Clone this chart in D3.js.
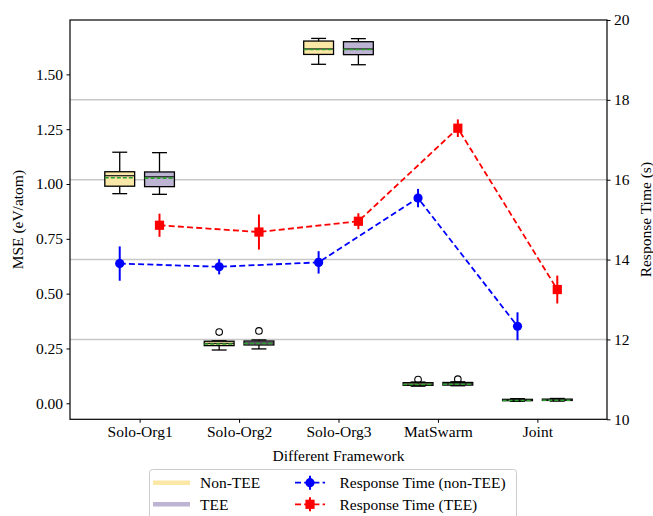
<!DOCTYPE html>
<html>
<head>
<meta charset="utf-8">
<script src="https://cdn.jsdelivr.net/npm/d3@7"></script>
<style>
  body { margin: 0; background: #fff; }
  svg { display: block; font-family: "Liberation Serif", "DejaVu Serif", serif; }
</style>
</head>
<body>
<script>
// DATA
const categories = ["Solo-Org1", "Solo-Org2", "Solo-Org3", "MatSwarm", "Joint"];
// box stats: [whisker low, q1, median, q3, whisker high, mean]
const boxNonTEE = [
  [0.956, 0.990, 1.038, 1.056, 1.145, 1.031],
  [0.243, 0.263, 0.273, 0.283, 0.285, 0.273],
  [1.546, 1.591, 1.616, 1.652, 1.664, 1.616],
  [0.078, 0.082, 0.088, 0.094, 0.097, 0.088],
  [0.009, 0.012, 0.015, 0.018, 0.021, 0.015]
];
const boxTEE = [
  [0.953, 0.988, 1.033, 1.055, 1.143, 1.029],
  [0.248, 0.266, 0.275, 0.284, 0.289, 0.275],
  [1.544, 1.590, 1.616, 1.649, 1.663, 1.616],
  [0.080, 0.083, 0.089, 0.095, 0.098, 0.089],
  [0.010, 0.013, 0.016, 0.019, 0.022, 0.016]
];
const outliersNonTEE = [[], [0.325], [], [0.108], []];
const outliersTEE = [[], [0.330], [], [0.110], []];
const rtNonTEE = [13.90, 13.82, 13.93, 15.54, 12.33];
const rtNonTEEErr = [0.43, 0.19, 0.28, 0.23, 0.35];
const rtTEE = [14.86, 14.69, 14.96, 17.29, 13.25];
const rtTEEErr = [0.29, 0.44, 0.20, 0.22, 0.35];
const leftTicks = [0, 0.25, 0.5, 0.75, 1.0, 1.25, 1.5];
const rightTicks = [10, 12, 14, 16, 18, 20];

// CONSTANTS
const WIDTH = 653, HEIGHT = 516;
const LEFT = 70, RIGHT = 607, TOP = 20, BOTTOM = 419.3;
const OFFSET = 0.2, BOX_W = 0.3;
const COL_NON = "#fce8a6", COL_TEE = "#bdb3d2";
const FONT = 15.5;

const x = d3.scaleLinear().domain([-0.7, 4.7]).range([LEFT, RIGHT]);
const yL = d3.scaleLinear().domain([-0.073, 1.748]).range([BOTTOM, TOP]);
const yR = d3.scaleLinear().domain([10, 20]).range([BOTTOM, TOP]);

const svg = d3.select("body").append("svg")
  .attr("width", WIDTH).attr("height", HEIGHT);

// GRID (from right axis)
svg.append("g").selectAll("line")
  .data(rightTicks.filter(t => t > 10 && t < 20))
  .enter().append("line")
  .attr("x1", LEFT).attr("x2", RIGHT)
  .attr("y1", d => yR(d)).attr("y2", d => yR(d))
  .attr("stroke", "#c8c8c8").attr("stroke-width", 1.5);

// BOXES
function drawBoxes(stats, outliers, shift, fill) {
  const g = svg.append("g");
  const bw = x(BOX_W) - x(0);
  stats.forEach((s, i) => {
    const cx = x(i + shift);
    // whiskers
    g.append("line").attr("x1", cx).attr("x2", cx)
      .attr("y1", yL(s[0])).attr("y2", yL(s[1]))
      .attr("stroke", "#000").attr("stroke-width", 1.3);
    g.append("line").attr("x1", cx).attr("x2", cx)
      .attr("y1", yL(s[3])).attr("y2", yL(s[4]))
      .attr("stroke", "#000").attr("stroke-width", 1.3);
    [s[0], s[4]].forEach(v => {
      g.append("line").attr("x1", cx - bw / 4).attr("x2", cx + bw / 4)
        .attr("y1", yL(v)).attr("y2", yL(v))
        .attr("stroke", "#000").attr("stroke-width", 1.3);
    });
    // box
    g.append("rect")
      .attr("x", cx - bw / 2).attr("width", bw)
      .attr("y", yL(s[3])).attr("height", Math.max(yL(s[1]) - yL(s[3]), 1))
      .attr("fill", fill).attr("stroke", "#000").attr("stroke-width", 1.3);
    // median
    g.append("line").attr("x1", cx - bw / 2).attr("x2", cx + bw / 2)
      .attr("y1", yL(s[2])).attr("y2", yL(s[2]))
      .attr("stroke", "#222").attr("stroke-width", 1.3);
    // mean
    g.append("line").attr("x1", cx - bw / 2).attr("x2", cx + bw / 2)
      .attr("y1", yL(s[5]) + 0.5).attr("y2", yL(s[5]) + 0.5)
      .attr("stroke", "#2ca02c").attr("stroke-width", 1.6)
      .attr("stroke-dasharray", "4,2");
    // fliers
    outliers[i].forEach(v => {
      g.append("circle").attr("cx", cx).attr("cy", yL(v)).attr("r", 3.3)
        .attr("fill", "none").attr("stroke", "#000").attr("stroke-width", 1.1);
    });
  });
}
drawBoxes(boxNonTEE, outliersNonTEE, -OFFSET, COL_NON);
drawBoxes(boxTEE, outliersTEE, OFFSET, COL_TEE);

// RESPONSE TIME LINES
function drawSeries(vals, errs, shift, color, marker) {
  const g = svg.append("g");
  const line = d3.line().x((d, i) => x(i + shift)).y(d => yR(d));
  g.append("path").datum(vals).attr("d", line)
    .attr("fill", "none").attr("stroke", color).attr("stroke-width", 1.8)
    .attr("stroke-dasharray", "6,3.2");
  vals.forEach((v, i) => {
    g.append("line").attr("x1", x(i + shift)).attr("x2", x(i + shift))
      .attr("y1", yR(v - errs[i])).attr("y2", yR(v + errs[i]))
      .attr("stroke", color).attr("stroke-width", 2);
  });
  vals.forEach((v, i) => {
    if (marker === "circle") {
      g.append("circle").attr("cx", x(i + shift)).attr("cy", yR(v)).attr("r", 4.6).attr("fill", color);
    } else {
      g.append("rect").attr("x", x(i + shift) - 4.6).attr("y", yR(v) - 4.6)
        .attr("width", 9.2).attr("height", 9.2).attr("fill", color);
    }
  });
}
drawSeries(rtNonTEE, rtNonTEEErr, -OFFSET, "#0000ff", "circle");
drawSeries(rtTEE, rtTEEErr, OFFSET, "#ff0000", "square");

// AXES
const xAxis = d3.axisBottom(x).tickValues(d3.range(categories.length))
  .tickFormat(i => categories[i]).tickSize(3.5).tickPadding(3.5);
const yAxisL = d3.axisLeft(yL).tickValues(leftTicks).tickFormat(d3.format(".2f"))
  .tickSize(3.5).tickPadding(3.5);
const yAxisR = d3.axisRight(yR).tickValues(rightTicks).tickFormat(d3.format("d"))
  .tickSize(3.5).tickPadding(3.5);

function styleAxis(g) {
  g.select(".domain").remove();
  g.selectAll("text").style("font-family", "Liberation Serif").style("font-size", FONT + "px").attr("fill", "#000");
  g.selectAll("line").attr("stroke", "#000").attr("stroke-width", 1);
}
svg.append("g").attr("transform", "translate(0," + BOTTOM + ")").call(xAxis).call(styleAxis);
svg.append("g").attr("transform", "translate(" + LEFT + ",0)").call(yAxisL).call(styleAxis);
svg.append("g").attr("transform", "translate(" + RIGHT + ",0)").call(yAxisR).call(styleAxis);

// FRAME
svg.append("rect").attr("x", LEFT).attr("y", TOP)
  .attr("width", RIGHT - LEFT).attr("height", BOTTOM - TOP)
  .attr("fill", "none").attr("stroke", "#000").attr("stroke-width", 1.2);

// AXIS TITLES
svg.append("text").attr("x", (LEFT + RIGHT) / 2).attr("y", 461)
  .attr("text-anchor", "middle").style("font-size", FONT + "px").text("Different Framework");
svg.append("text").attr("transform", "translate(23," + (TOP + BOTTOM) / 2 + ") rotate(-90)")
  .attr("text-anchor", "middle").style("font-size", FONT + "px").text("MSE (eV/atom)");
svg.append("text").attr("transform", "translate(651," + (TOP + BOTTOM) / 2 + ") rotate(-90)")
  .attr("text-anchor", "middle").style("font-size", FONT + "px").text("Response Time (s)");

// LEGEND
const legend = svg.append("g");
legend.append("rect").attr("x", 149.5).attr("y", 469.5).attr("width", 367).attr("height", 60)
  .attr("rx", 3).attr("fill", "#fff").attr("fill-opacity", 0.8)
  .attr("stroke", "#cccccc").attr("stroke-width", 1);
const rows = [482.7, 504.3];
[["Non-TEE", COL_NON], ["TEE", COL_TEE]].forEach((d, i) => {
  legend.append("line").attr("x1", 153).attr("x2", 190).attr("y1", rows[i]).attr("y2", rows[i])
    .attr("stroke", d[1]).attr("stroke-width", 4.5);
  legend.append("text").attr("x", 200).attr("y", rows[i] + 5.3)
    .style("font-size", FONT + "px").text(d[0]);
});
[["Response Time (non-TEE)", "#0000ff", "circle"], ["Response Time (TEE)", "#ff0000", "square"]].forEach((d, i) => {
  const cy = rows[i];
  legend.append("line").attr("x1", 295).attr("x2", 325).attr("y1", cy).attr("y2", cy)
    .attr("stroke", d[1]).attr("stroke-width", 1.8).attr("stroke-dasharray", "6,3.2");
  legend.append("line").attr("x1", 310).attr("x2", 310).attr("y1", cy - 7).attr("y2", cy + 7)
    .attr("stroke", d[1]).attr("stroke-width", 2);
  if (d[2] === "circle") {
    legend.append("circle").attr("cx", 310).attr("cy", cy).attr("r", 4.6).attr("fill", d[1]);
  } else {
    legend.append("rect").attr("x", 305.4).attr("y", cy - 4.6).attr("width", 9.2).attr("height", 9.2).attr("fill", d[1]);
  }
  legend.append("text").attr("x", 339.5).attr("y", cy + 5.3)
    .style("font-size", FONT + "px").text(d[0]);
});
</script>
</body>
</html>
